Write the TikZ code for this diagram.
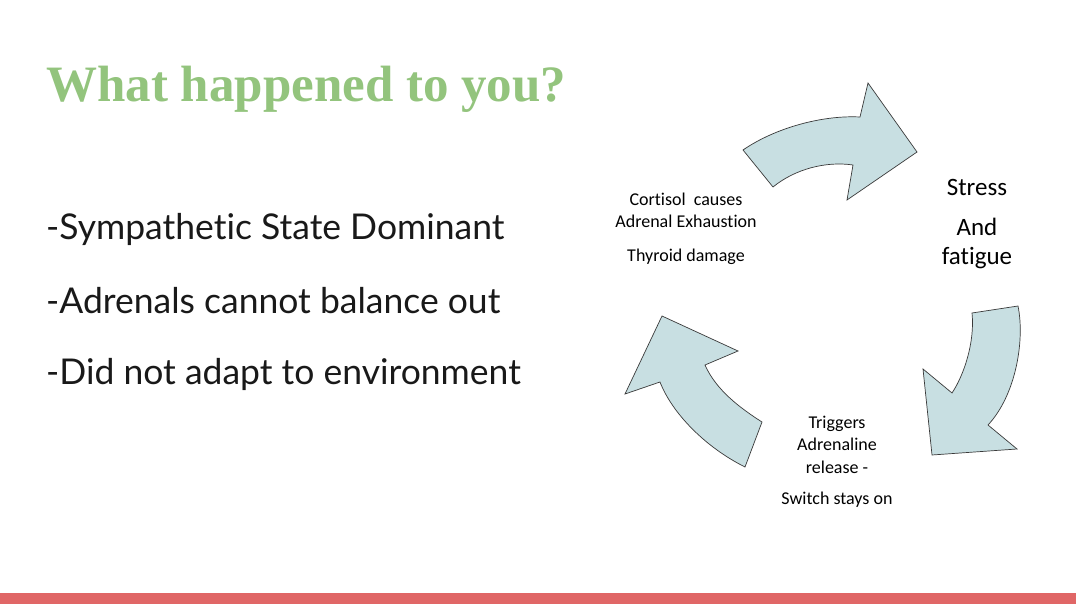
\documentclass[tikz,border=0pt]{standalone}
\usepackage{fontspec}
\setmainfont{Liberation Serif}
\newfontfamily\bodyfont[Ligatures=NoCommon]{Lato}
\newfontfamily\calfont[Ligatures=NoCommon]{Carlito}
\definecolor{titlegreen}{HTML}{93C47D}
\definecolor{barred}{HTML}{E06666}
\definecolor{arrowfill}{HTML}{C8DFE2}
\definecolor{arrowline}{HTML}{3A3A3A}
\tikzset{
  cyc/.style={fill=arrowfill, draw=arrowline, line width=0.7pt, line join=miter},
  bullet/.style={anchor=west, inner sep=0pt, font=\bodyfont\fontsize{35.5}{40}\selectfont, text=black!90},
  lab/.style={align=center, inner sep=0pt, text=black, font=\calfont\fontsize{18}{22.5}\selectfont},
  biglab/.style={align=center, inner sep=0pt, text=black, font=\calfont\fontsize{25}{29}\selectfont}
}
\begin{document}
\begin{tikzpicture}[x=1pt,y=-1pt]
\useasboundingbox (0,0) rectangle (1076,604);
\fill[white] (0,0) rectangle (1076,604);
% bottom bar
\fill[barred] (0,593) rectangle (1076,604);
% title
\node[anchor=base west, inner sep=0pt, text=titlegreen, font=\fontsize{51}{60}\selectfont\bfseries] (title) at (46,102) {What happened to you?};
% bullets
\node[bullet] (b1) at (46,229) {-Sympathetic State Dominant};
\node[bullet] (b2) at (46,301) {-Adrenals cannot balance out};
\node[bullet] (b3) at (46,374) {-Did not adapt to environment};
% cycle arrows
\draw[cyc] (743,150) .. controls (775,128) and (822,115) .. (860,117)
  -- (868,83) -- (917,152) -- (847,200) -- (853,165)
  .. controls (826,161) and (795,169) .. (773,187) -- cycle;
\draw[cyc] (972,313) -- (1018,306) .. controls (1025,340) and (1016,395) .. (988,425)
  -- (1017,449) -- (932,455) -- (923,369) -- (952,393)
  .. controls (964,375) and (975,342) .. (972,313) -- cycle;
\draw[cyc] (745,467) -- (762,422) .. controls (740,408) and (716,390) .. (705,365)
  -- (738,351) -- (662,316) -- (625,394) -- (660,382)
  .. controls (672,413) and (705,447) .. (745,467) -- cycle;
% labels
\node[lab] (cort) at (686,210.5) {Cortisol\ \ causes\\Adrenal Exhaustion};
\node[lab] (thy) at (686,257) {Thyroid damage};
\node[biglab] (stress) at (977,187) {Stress};
\node[biglab] (fat) at (977,243.5) {And\\fatigue};
\node[lab] (trig) at (837,444.5) {Triggers\\Adrenaline\\release -};
\node[lab] (sw) at (837,500) {Switch stays on};
\end{tikzpicture}
\end{document}
